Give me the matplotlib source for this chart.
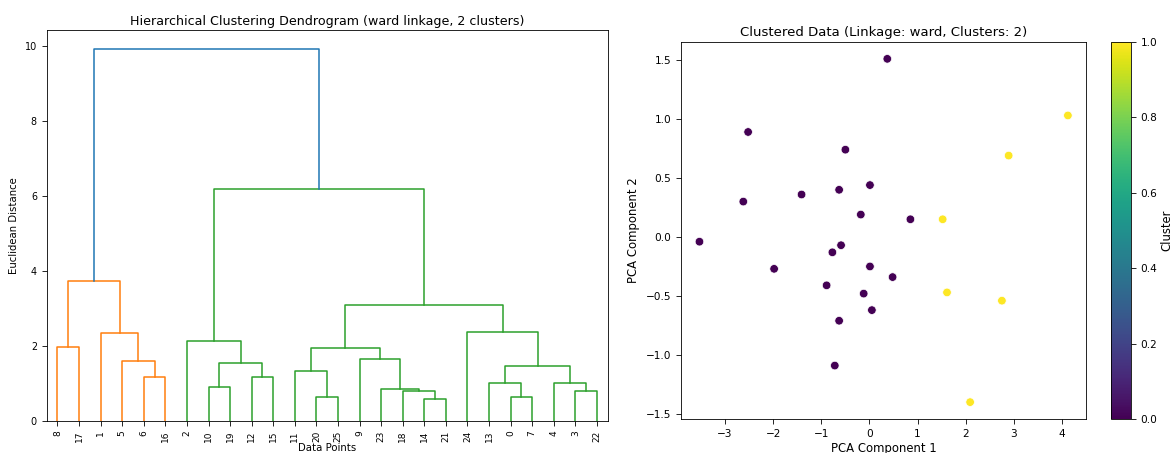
import numpy as np
import matplotlib
matplotlib.use("Agg")
import matplotlib.pyplot as plt

# dendrogram: leaf ids 0..25, merges create ids 26, 27, ...
n_leaves = 26
merge_left = [14, 20, 0, 18, 3, 23, 10, 13, 4, 12, 6, 11, 33, 32, 5, 9, 37, 8, 2, 1, 24, 42, 43, 44, 48]
merge_right = [21, 25, 7, 26, 22, 29, 19, 28, 30, 15, 16, 27, 34, 35, 36, 31, 41, 17, 39, 40, 38, 46, 45, 47, 49]
merge_height = [0.59, 0.63, 0.63, 0.80, 0.80, 0.86, 0.90, 1.02, 1.00, 1.17, 1.18, 1.32, 1.47,
                1.53, 1.59, 1.64, 1.94, 1.98, 2.13, 2.35, 2.36, 3.08, 3.73, 6.18, 9.93]

# PCA projection of the same points, with cluster labels
pc1 = [0.37, -2.52, -0.50, 0.01, -0.63, -1.41, -2.62, -0.18, 0.85, -3.53, -0.59, -0.77, -1.98,
       0.01, 0.48, -0.89, -0.12, 0.05, -0.63, -0.72, 1.52, 4.12, 2.89, 1.61, 2.75, 2.09]
pc2 = [1.51, 0.89, 0.74, 0.44, 0.40, 0.36, 0.30, 0.19, 0.15, -0.04, -0.07, -0.13, -0.27,
       -0.25, -0.34, -0.41, -0.48, -0.62, -0.71, -1.09, 0.15, 1.03, 0.69, -0.47, -0.54, -1.40]
cluster = [0]*20 + [1]*6

plt.rcParams['axes.linewidth'] = 0.6
plt.rcParams['xtick.major.width'] = 0.6
plt.rcParams['ytick.major.width'] = 0.6

fig = plt.figure(figsize=(11.73, 4.53), dpi=100)
ax1 = fig.add_axes([0.0398, 0.0713, 0.4783, 0.8618])
ax2 = fig.add_axes([0.5806, 0.0744, 0.3455, 0.8336])
cax = fig.add_axes([0.9474, 0.0744, 0.01654, 0.8336])

# ---- dendrogram, scipy style ----
children = {n_leaves + i: (merge_left[i], merge_right[i], merge_height[i]) for i in range(len(merge_height))}
root = n_leaves + len(merge_height) - 1
threshold = 0.7 * max(merge_height)
palette = ['#ff7f0e', '#2ca02c', '#d62728', '#9467bd']

leaf_order = []
def order(node):
    if node < n_leaves:
        leaf_order.append(node)
        return
    order(children[node][0])
    order(children[node][1])
order(root)
xpos = {leaf: 5 + 10*i for i, leaf in enumerate(leaf_order)}

segs = []
def walk(node, color):
    if node < n_leaves:
        return xpos[node], 0.0
    l, r, h = children[node]
    if h >= threshold:
        c = '#1f77b4'
    else:
        if color is None:
            color = palette[walk.count % len(palette)]
            walk.count += 1
        c = color
    child_color = color if h < threshold else None
    xl, hl = walk(l, child_color)
    xr, hr = walk(r, child_color)
    segs.append(([xl, xl, xr, xr], [hl, h, h, hr], c))
    return (xl + xr) / 2, h
walk.count = 0
walk(root, None)

for xs, ys, c in segs:
    ax1.plot(xs, ys, color=c, lw=1.1)

ax1.set_xlim(0, 10*n_leaves)
ax1.set_ylim(0, max(merge_height)*1.05)
ax1.set_xticks([xpos[l] for l in leaf_order])
ax1.set_xticklabels([str(l) for l in leaf_order], rotation=90, fontsize=6.5)
ax1.tick_params(axis='y', labelsize=6.9)
ax1.set_title('Hierarchical Clustering Dendrogram (ward linkage, 2 clusters)', fontsize=9.1, pad=4)
ax1.set_xlabel('Data Points', fontsize=7.3, labelpad=1)
ax1.set_ylabel('Euclidean Distance', fontsize=7.3)

# ---- scatter ----
sc = ax2.scatter(pc1, pc2, c=cluster, cmap='viridis', s=38, edgecolors='w', linewidths=0.5)
ax2.set_title('Clustered Data (Linkage: ward, Clusters: 2)', fontsize=9.5, pad=4)
ax2.set_xlabel('PCA Component 1', fontsize=8.4, labelpad=2)
ax2.set_ylabel('PCA Component 2', fontsize=8.4)
ax2.tick_params(labelsize=7.6)

cb = fig.colorbar(sc, cax=cax)
cb.set_label('Cluster', fontsize=8.4, labelpad=2)
cb.ax.tick_params(labelsize=7.6)
cb.outline.set_linewidth(0.6)

fig.savefig('out.png', dpi=100)
